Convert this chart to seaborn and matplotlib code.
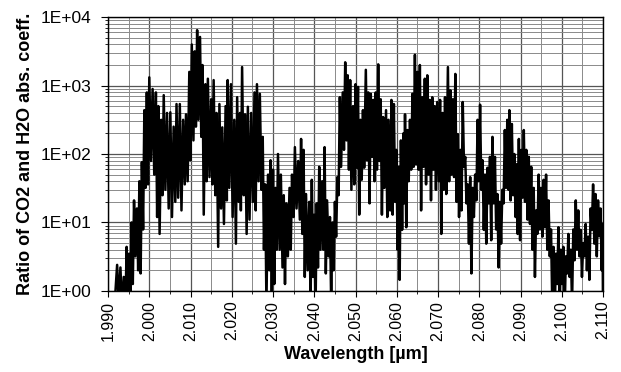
import matplotlib
matplotlib.use("Agg")
import matplotlib.pyplot as plt
import matplotlib.ticker as mticker
import numpy as np
import pandas as pd
import seaborn as sns

# Wavelength [µm] and ratio values (alternating peaks/troughs)
wavelength_a = [1.9918, 1.9922, 1.9926, 1.9930, 1.9934, 1.9938, 1.9942, 1.9945, 1.9948, 1.9951,
                1.9954, 1.9957, 1.9960, 1.9963, 1.9966, 1.9970, 1.9973, 1.9976, 1.9979, 1.9982,
                1.9985, 1.9988, 1.9991, 1.9994, 1.9997, 2.0000, 2.0004, 2.0008, 2.0012, 2.0016,
                2.0019, 2.0022, 2.0025, 2.0029, 2.0032, 2.0035, 2.0039, 2.0043, 2.0047, 2.0051,
                2.0055, 2.0059, 2.0063, 2.0066, 2.0070, 2.0074, 2.0078, 2.0082, 2.0086, 2.0089,
                2.0093, 2.0097, 2.0100, 2.0103, 2.0107, 2.0110, 2.0113, 2.0116, 2.0119, 2.0123,
                2.0126, 2.0129, 2.0132, 2.0136, 2.0139, 2.0142, 2.0146, 2.0150, 2.0153, 2.0156,
                2.0160, 2.0163, 2.0167, 2.0170, 2.0174, 2.0177, 2.0181, 2.0185, 2.0188, 2.0190,
                2.0194, 2.0198, 2.0202, 2.0206, 2.0210, 2.0213, 2.0217, 2.0220, 2.0222, 2.0225,
                2.0229, 2.0232, 2.0236, 2.0239, 2.0243, 2.0247, 2.0251, 2.0255, 2.0258, 2.0261,
                2.0265, 2.0268, 2.0272, 2.0275, 2.0278, 2.0281, 2.0284, 2.0288, 2.0291, 2.0294,
                2.0297, 2.0300, 2.0303, 2.0306, 2.0309, 2.0312, 2.0316, 2.0319, 2.0323, 2.0326,
                2.0329, 2.0332, 2.0336, 2.0340, 2.0343, 2.0346, 2.0350, 2.0353, 2.0357, 2.0361,
                2.0365, 2.0368, 2.0371, 2.0374, 2.0377, 2.0380, 2.0384, 2.0388, 2.0391, 2.0394,
                2.0397, 2.0400, 2.0403, 2.0406, 2.0409, 2.0412, 2.0415, 2.0419, 2.0422, 2.0425,
                2.0428, 2.0431, 2.0435, 2.0438, 2.0441, 2.0444, 2.0447, 2.0450]
ratio_a = [1.0, 2.4, 0.63, 2.2, 0.5, 1.6, 0.5, 4.4, 1.0, 3.5,
           0.63, 10, 1.26, 21, 3.2, 16, 2.0, 40, 1.8, 76,
           7.9, 437, 32, 794, 36, 1318, 79, 891, 50, 794,
           12, 501, 6.8, 316, 25, 724, 30, 398, 16, 407,
           12, 251, 20, 537, 23, 537, 15, 316, 36, 380,
           40, 1585, 81, 3981, 158, 3162, 251, 6457, 316, 5129,
           178, 1995, 13, 1047, 40, 1259, 46, 631, 36, 1202,
           25, 398, 4.4, 537, 16, 245, 9.5, 501, 21, 1202,
           32, 1047, 12, 316, 4.9, 676, 20, 398, 15, 1862,
           25, 380, 6.8, 490, 11, 398, 20, 794, 15, 1047,
           40, 759, 30, 178, 4.0, 36, 0.63, 50, 2.0, 81,
           0.63, 59, 1.26, 32, 4.0, 100, 4.0, 50, 2.2, 25,
           1.26, 19, 3.2, 32, 4.0, 50, 12, 126, 16, 79,
           11, 166, 6.8, 115, 1.6, 26, 2.0, 20, 0.63, 42,
           1.6, 13, 0.5, 19, 2.2, 65, 4.0, 40, 4.0, 126,
           1.8, 21, 3.2, 12, 0.63, 10, 2.0, 20]

wavelength_b = [2.0453, 2.0456, 2.0459, 2.0462, 2.0465, 2.0469, 2.0472, 2.0475, 2.0478, 2.0481,
                2.0484, 2.0487, 2.0490, 2.0494, 2.0497, 2.0500, 2.0503, 2.0506, 2.0509, 2.0512,
                2.0515, 2.0518, 2.0521, 2.0525, 2.0528, 2.0531, 2.0534, 2.0537, 2.0540, 2.0543,
                2.0546, 2.0549, 2.0552, 2.0555, 2.0558, 2.0561, 2.0564, 2.0567, 2.0570, 2.0574,
                2.0577, 2.0580, 2.0584, 2.0587, 2.0590, 2.0593, 2.0596, 2.0599, 2.0602, 2.0605,
                2.0607, 2.0610, 2.0613, 2.0616, 2.0618, 2.0620, 2.0623, 2.0626, 2.0629, 2.0632,
                2.0635, 2.0638, 2.0641, 2.0644, 2.0647, 2.0650, 2.0653, 2.0656, 2.0659, 2.0662,
                2.0665, 2.0668, 2.0671, 2.0674, 2.0677, 2.0680, 2.0683, 2.0686, 2.0689, 2.0692,
                2.0695, 2.0698, 2.0702, 2.0705, 2.0708, 2.0711, 2.0714, 2.0717, 2.0720, 2.0724,
                2.0727, 2.0730, 2.0733, 2.0736, 2.0739, 2.0742, 2.0745, 2.0748, 2.0751, 2.0754,
                2.0757, 2.0760, 2.0763, 2.0766, 2.0769, 2.0772, 2.0775, 2.0778, 2.0781, 2.0784,
                2.0787, 2.0790, 2.0793, 2.0796, 2.0799, 2.0802, 2.0805, 2.0808, 2.0811, 2.0814,
                2.0817, 2.0820, 2.0823, 2.0826, 2.0829, 2.0832, 2.0835, 2.0838, 2.0841, 2.0844,
                2.0847, 2.0850, 2.0853, 2.0856, 2.0859, 2.0862, 2.0865, 2.0868, 2.0871, 2.0873,
                2.0876, 2.0879, 2.0882, 2.0885, 2.0888, 2.0891, 2.0893, 2.0896, 2.0899, 2.0902,
                2.0905, 2.0908, 2.0911, 2.0914, 2.0917, 2.0920, 2.0923, 2.0926, 2.0929, 2.0932,
                2.0935, 2.0938, 2.0941, 2.0944, 2.0947, 2.0950, 2.0953, 2.0956, 2.0959, 2.0962,
                2.0965, 2.0968, 2.0971, 2.0974, 2.0977, 2.0980, 2.0983, 2.0986, 2.0989, 2.0992,
                2.0995, 2.0998, 2.1001, 2.1004, 2.1007, 2.1010, 2.1013, 2.1016, 2.1019, 2.1022,
                2.1025, 2.1028, 2.1031, 2.1034, 2.1037, 2.1040, 2.1043, 2.1046, 2.1049, 2.1052,
                2.1055, 2.1058, 2.1061, 2.1064, 2.1067, 2.1070, 2.1073, 2.1076, 2.1079, 2.1082,
                2.1085, 2.1088, 2.1091, 2.1094, 2.1097, 2.1099, 2.1100]
ratio_b = [6.2, 46, 25, 676, 65, 794, 115, 2188, 158, 1413,
           59, 1202, 30, 501, 36, 1047, 63, 955, 13, 316,
           42, 437, 63, 1698, 81, 794, 19, 759, 91, 617,
           40, 794, 59, 2042, 79, 631, 13, 347, 32, 437,
           12, 316, 15, 617, 13, 537, 20, 115, 4.0, 65,
           1.45, 158, 7.8, 200, 19, 380, 8.5, 224, 40, 316,
           59, 759, 65, 2818, 71, 1585, 59, 1995, 15, 676,
           65, 1259, 36, 1413, 50, 617, 21, 676, 59, 501,
           30, 575, 40, 617, 6.8, 398, 30, 676, 26, 1862,
           40, 851, 50, 631, 46, 1479, 20, 195, 12, 115,
           15, 575, 65, 91, 19, 36, 4.9, 46, 1.8, 32,
           12, 50, 21, 316, 40, 525, 30, 81, 7.8, 50,
           4.9, 63, 19, 91, 5.5, 178, 19, 91, 7.9, 26,
           2.2, 20, 4.9, 30, 19, 224, 32, 316, 30, 437,
           21, 275, 25, 100, 12, 71, 6.8, 166, 5.5, 115,
           23, 224, 20, 115, 11, 91, 9.5, 65, 4.0, 32,
           1.6, 15, 6.8, 50, 7.9, 32, 6.2, 42, 8.5, 50,
           4.0, 21, 3.2, 7.9, 0.63, 4.4, 0.5, 3.5, 1.26, 8.5,
           0.63, 4.0, 1.26, 4.4, 0.5, 3.2, 1.8, 6.8, 1.6, 4.0,
           0.63, 7.9, 2.8, 21, 4.0, 15, 3.2, 7.8, 1.6, 5.0,
           3.2, 9.5, 2.0, 6.2, 1.45, 16, 7.8, 36, 4.9, 26,
           3.2, 21, 6.3, 16, 2.0, 9.5, 0.5]

wavelength = wavelength_a + wavelength_b
ratio = ratio_a + ratio_b
df = pd.DataFrame({"Wavelength [µm]": wavelength, "ratio": ratio})

x_ticks = [1.990, 2.000, 2.010, 2.020, 2.030, 2.040, 2.050, 2.060, 2.070, 2.080, 2.090, 2.100, 2.110]
x_tick_labels = ["1.990", "2.000", "2.010", "2.020", "2.030", "2.040", "2.050",
                 "2.060", "2.070", "2.080", "2.090", "2.100", "2.110"]
y_ticks = [1, 10, 100, 1000, 10000]
y_tick_labels = ["1E+00", "1E+01", "1E+02", "1E+03", "1E+04"]

sns.set_style("white")
plt.rcParams["font.family"] = ["Liberation Sans", "DejaVu Sans"]
plt.rcParams["text.color"] = "black"
plt.rcParams["axes.labelcolor"] = "black"
plt.rcParams["xtick.color"] = "black"
plt.rcParams["ytick.color"] = "black"

fig = plt.figure(figsize=(6.21, 3.72), dpi=100)
ax = fig.add_axes([0.174, 0.218, 0.797, 0.736])

sns.lineplot(data=df, x="Wavelength [µm]", y="ratio", ax=ax, color="black",
             linewidth=1.8, sort=False, estimator=None, zorder=3)

ax.set_yscale("log")
ax.set_ylim(1, 10000)
ax.set_xlim(1.990, 2.110)

ax.set_xticks(x_ticks)
ax.set_xticklabels(x_tick_labels, rotation=90, fontsize=11.5, color="black")
ax.xaxis.set_minor_locator(mticker.MultipleLocator(0.005))
ax.set_yticks(y_ticks)
ax.set_yticklabels(y_tick_labels, fontsize=12.5, color="black")
ax.yaxis.set_minor_locator(mticker.LogLocator(base=10, subs=np.arange(2, 10), numticks=20))
ax.yaxis.set_minor_formatter(mticker.NullFormatter())

ax.grid(True, which="major", color="#555555", linewidth=0.9)
ax.grid(True, which="minor", color="#8a8a8a", linewidth=0.7)
ax.set_axisbelow(True)

ax.tick_params(axis="x", which="major", direction="out", length=4, width=0.8, color="black", pad=3)
ax.tick_params(axis="y", which="major", direction="out", length=5, width=0.8, color="black", pad=7)
ax.tick_params(axis="both", which="minor", direction="out", length=2.5, width=0.6, color="black")
ax.tick_params(bottom=True, left=True, which="both")

for s in ax.spines.values():
    s.set_color("black")
    s.set_linewidth(1.0)

ax.set_xlabel("Wavelength [µm]", fontsize=13, fontweight="bold", labelpad=4, color="black")
ax.set_ylabel("Ratio of CO2 and H2O abs. coeff.", fontsize=13, fontweight="bold", labelpad=5,
              color="black")

fig.savefig("out.png", dpi=100)
